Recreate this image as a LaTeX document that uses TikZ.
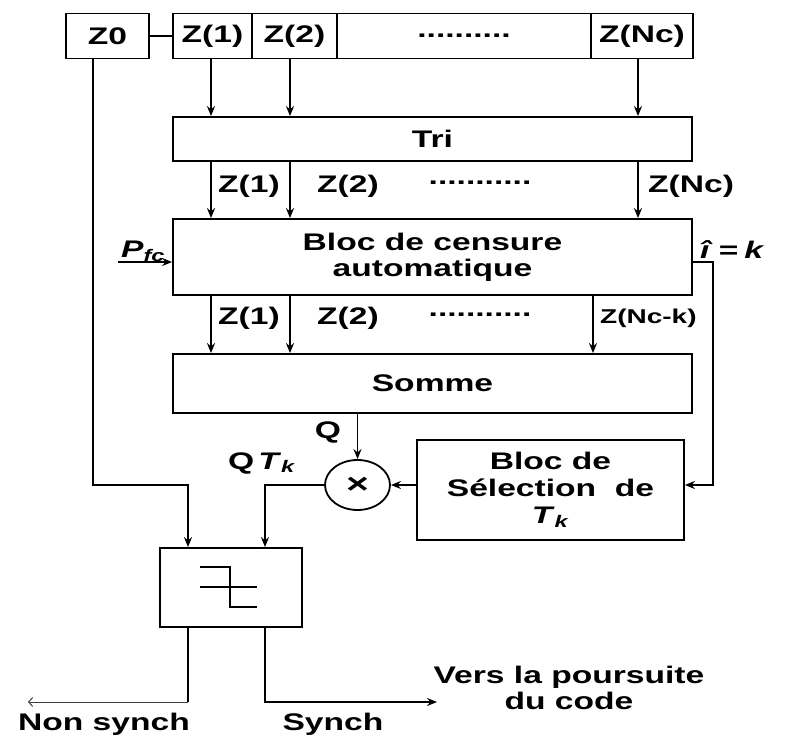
\documentclass[tikz,border=0pt]{standalone}
\usepackage{fontspec}
\setmainfont{Liberation Sans}[FakeStretch=1.4]
\usetikzlibrary{arrows.meta,shapes.geometric}
\begin{document}
\begin{tikzpicture}[x=1pt,y=-1pt,
  box/.style={draw,line width=1.8pt,inner sep=0pt,font=\fontsize{24}{26}\selectfont\bfseries},
  lbl/.style={inner sep=0pt,font=\fontsize{24}{26}\selectfont\bfseries},
  slbl/.style={inner sep=0pt,font=\fontsize{20}{24}\selectfont\bfseries},
  arr/.style={line width=1.6pt,-{Stealth[length=10pt,width=8pt]}},
  wire/.style={line width=1.6pt}]
\fill[white] (0,0) rectangle (787,738);
\useasboundingbox (0,0) rectangle (787,738);

% arrow abscissas
\coordinate (a0) at (93,0);
\coordinate (a1) at (211,0);
\coordinate (a2) at (290,0);
\coordinate (an) at (638,0);
\coordinate (ak) at (593,0);
\coordinate (b1) at (188,0);
\coordinate (b2) at (265,0);
\coordinate (c1) at (713,262);
\coordinate (pin) at (118,262);
\coordinate (nsc) at (188,702);
\coordinate (ns) at (28,702);
\coordinate (sy) at (437,702);

% top row
\node[box,minimum width=83pt,minimum height=45pt] (z0) at (107.5,36) {Z0};
\node[box,minimum width=79pt,minimum height=45pt] (z1) at (212.5,36) {Z(1)};
\node[box,minimum width=85pt,minimum height=45pt] (z2) at (294.5,36) {Z(2)};
\node[box,minimum width=254pt,minimum height=45pt] (zd) at (464,36) {..........};
\node[box,minimum width=102pt,minimum height=45pt] (zn) at (642,36) {Z(Nc)};

% main blocks
\node[box,minimum width=519pt,minimum height=44pt] (tri) at (432.5,139) {Tri};
\node[box,minimum width=519pt,minimum height=76pt,align=center] (bloc) at (432.5,257) {Bloc de censure\\automatique};
\node[box,minimum width=519pt,minimum height=59pt] (somme) at (432.5,383.5) {Somme};
\node[box,minimum width=267pt,minimum height=100pt,align=center,font=\fontsize{24}{27}\selectfont\bfseries] (sel) at (550.5,490) {Bloc de\\Sélection\ \ de\\\textit{T}\textsubscript{\textit{k}}};
\node[box,ellipse,minimum width=65pt,minimum height=50pt,font=\fontsize{28}{28}\selectfont\bfseries] (mult) at (357.5,485) {×};
\node[box,minimum width=142pt,minimum height=79pt] (thr) at (231,587.5) {};

% threshold symbol
\draw[wire] (200,567) -- (230,567) -- (230,607) -- (257,607);
\draw[wire] (200,587) -- (257,587);

% connectors
\draw[wire] (z0.east) -- (z1.west);
\draw[arr] (z1.south -| a1) -- (tri.north -| a1);
\draw[arr] (z2.south -| a2) -- (tri.north -| a2);
\draw[arr] (zn.south -| an) -- (tri.north -| an);
\draw[arr] (tri.south -| a1) -- (bloc.north -| a1);
\draw[arr] (tri.south -| a2) -- (bloc.north -| a2);
\draw[arr] (tri.south -| an) -- (bloc.north -| an);
\draw[arr] (bloc.south -| a1) -- (somme.north -| a1);
\draw[arr] (bloc.south -| a2) -- (somme.north -| a2);
\draw[arr] (bloc.south -| ak) -- (somme.north -| ak);
\draw[arr] (pin) -- (bloc.west |- pin);
\draw[arr] (bloc.east |- c1) -| (c1 |- mult.east) -- (sel.east |- mult.east);
\draw[arr] (somme.south -| mult.north) -- (mult.north);
\draw[arr] (sel.west |- mult.east) -- (mult.east);
\draw[arr] (mult.west) -| (thr.north -| b2);
\draw[arr] (z0.south -| a0) -- (a0 |- mult.west) -| (thr.north -| b1);
\draw[wire] (thr.south -| b1) -- (nsc);
\draw[line width=1pt,black!75,-{Straight Barb[length=4pt,width=9pt]}] (nsc) -- (ns);
\draw[arr] (thr.south -| b2) |- (sy);

% labels
\node[lbl,anchor=west] (l1) at (218,186) {Z(1)};
\node[lbl] (l2) at (348,186) {Z(2)};
\node[lbl] (ld) at (480,183) {...........};
\node[lbl,anchor=west] (ln) at (648,186) {Z(Nc)};
\node[lbl,anchor=west] (m1) at (218,318) {Z(1)};
\node[lbl] (m2) at (348,318) {Z(2)};
\node[lbl] (md) at (480,315) {...........};
\node[slbl,anchor=west] (mk) at (600,318) {Z(Nc-k)};
\node[lbl,anchor=south west,font=\fontsize{24}{26}\selectfont\bfseries\itshape] (pf) at (121,262) {P\textsubscript{fc}};
\node[lbl,anchor=west] (ik) at (700,250) {\textit{î}\hspace{6pt}=\hspace{6pt}\textit{k}};
\node[lbl] (q) at (328,432) {Q};
\node[lbl,anchor=west] (qt) at (228,463) {Q\,\textit{T}\textsubscript{\textit{k}}};
\node[lbl,anchor=base] (tns) at (104,730) {Non synch};
\node[lbl,anchor=base] (tsy) at (333,730) {Synch};
\node[lbl,anchor=north,align=center,font=\fontsize{24}{26}\selectfont\bfseries] (tv) at (569,666) {Vers la poursuite\\du code};
\end{tikzpicture}
\end{document}
